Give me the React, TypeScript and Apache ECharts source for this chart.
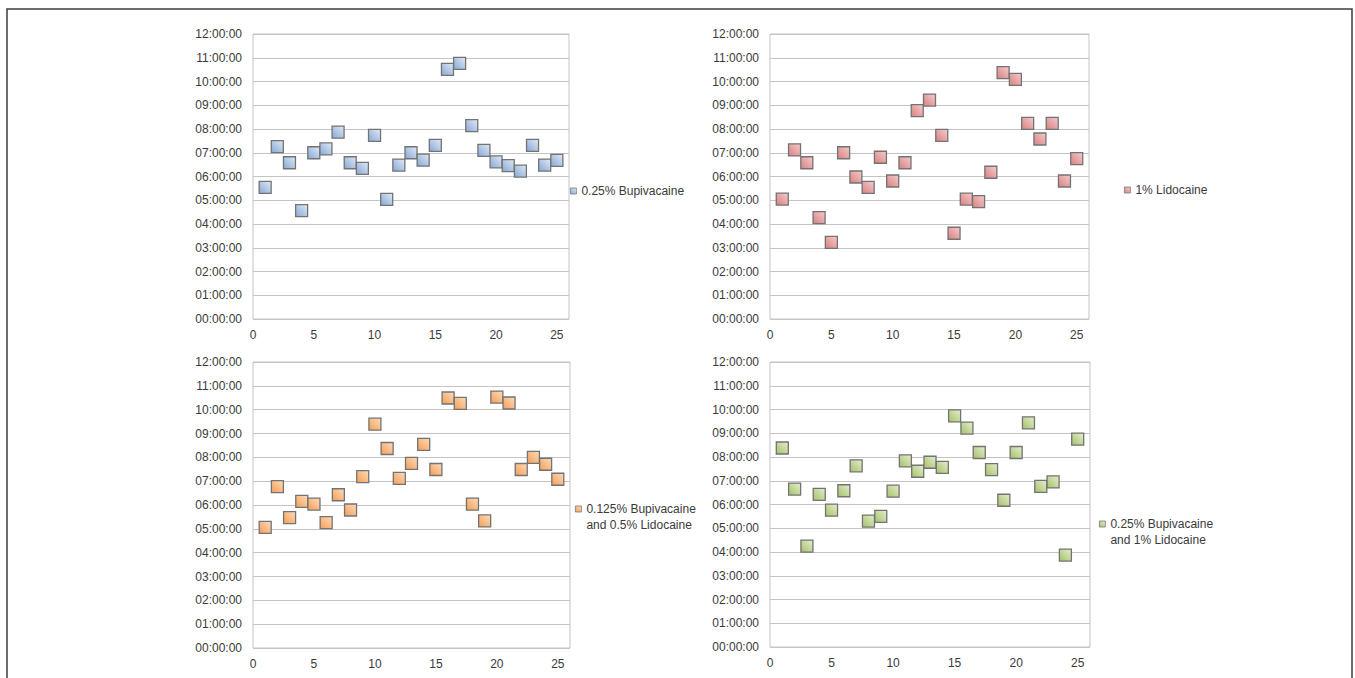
import React, { useEffect, useRef } from "react";
import * as echarts from "echarts";

// Patient numbers (x) shared by all panels
const patients = [1, 2, 3, 4, 5, 6, 7, 8, 9, 10, 11, 12, 13, 14, 15, 16, 17, 18, 19, 20, 21, 22, 23, 24, 25];

// Durations in hours
const bupi025 = [5.54, 7.26, 6.58, 4.56, 7.0, 7.16, 7.87, 6.58, 6.34, 7.73, 5.04, 6.48, 7.0, 6.69, 7.31, 10.51, 10.76, 8.14, 7.1, 6.62, 6.46, 6.23, 7.31, 6.48, 6.68];
const lido1 = [5.05, 7.12, 6.58, 4.27, 3.23, 7.0, 5.98, 5.54, 6.81, 5.81, 6.58, 8.77, 9.22, 7.73, 3.61, 5.05, 4.94, 6.18, 10.37, 10.09, 8.24, 7.58, 8.24, 5.81, 6.75];
const bupi0125Lido05 = [5.06, 6.77, 5.47, 6.15, 6.04, 5.26, 6.43, 5.79, 7.19, 9.39, 8.37, 7.12, 7.75, 8.54, 7.49, 10.49, 10.26, 6.04, 5.33, 10.53, 10.28, 7.49, 8.0, 7.71, 7.08];
const bupi025Lido1 = [8.38, 6.65, 4.25, 6.43, 5.76, 6.58, 7.63, 5.3, 5.5, 6.56, 7.84, 7.4, 7.78, 7.56, 9.73, 9.22, 8.19, 7.47, 6.18, 8.19, 9.44, 6.76, 6.95, 3.87, 8.75];

const seriesNames = [
  "0.25% Bupivacaine",
  "1% Lidocaine",
  "0.125% Bupivacaine and 0.5% Lidocaine",
  "0.25% Bupivacaine and 1% Lidocaine",
];
const seriesValues = [bupi025, lido1, bupi0125Lido05, bupi025Lido1];
const seriesColors = [
  ["#e1e9f5", "#86a8d6"],
  ["#f5cccc", "#d98080"],
  ["#fddcbc", "#f49e56"],
  ["#e5eecf", "#a5c168"],
];

const grids = [
  { left: 253, top: 34, width: 316, height: 285 },
  { left: 770, top: 34, width: 319, height: 285 },
  { left: 253, top: 362, width: 317, height: 286 },
  { left: 770, top: 362, width: 320, height: 285 },
];
const legendPos = [
  { left: 570, top: 184, multi: false },
  { left: 1124, top: 183, multi: false },
  { left: 575, top: 485, multi: true },
  { left: 1099, top: 500, multi: true },
];

const FONT = "Liberation Sans";
const TEXT = "#3a3a3a";

function pad2(v: number) {
  return (v < 10 ? "0" : "") + v;
}

export default function App() {
  const ref = useRef<HTMLDivElement>(null);
  useEffect(() => {
    document.body.style.margin = "0";
    const chart = echarts.init(ref.current!, undefined, { renderer: "svg" });
    const option: any = {
      animation: false,
      backgroundColor: "#ffffff",
      textStyle: { fontFamily: FONT },
      grid: grids.map((g) => ({ ...g, show: true, borderColor: "#c4c4c4", borderWidth: 1, containLabel: false })),
      xAxis: grids.map((_, i) => ({
        type: "value",
        gridIndex: i,
        min: 0,
        max: 26,
        interval: 5,
        axisLine: { show: false },
        axisTick: { show: false },
        splitLine: { show: false },
        axisLabel: {
          margin: 10,
          fontSize: 12,
          color: TEXT,
          fontFamily: FONT,
          showMaxLabel: false,
          formatter: (v: number) => (v % 5 === 0 ? String(v) : ""),
        },
      })),
      yAxis: grids.map((_, i) => ({
        type: "value",
        gridIndex: i,
        min: 0,
        max: 12,
        interval: 1,
        axisLine: { show: false },
        axisTick: { show: false },
        splitLine: { show: true, lineStyle: { color: "#c4c4c4", width: 1 } },
        axisLabel: {
          margin: 11,
          fontSize: 12,
          color: TEXT,
          fontFamily: FONT,
          formatter: (v: number) => pad2(v) + ":00:00",
        },
      })),
      legend: legendPos.map((p, i) => ({
        left: p.left,
        top: p.top,
        orient: "vertical",
        padding: 0,
        itemWidth: 6,
        itemHeight: 6,
        icon: "rect",
        selectedMode: false,
        data: [seriesNames[i]],
        formatter: p.multi
          ? (name: string) => " \n" + name.replace(" and ", "\nand ")
          : (name: string) => name,
        itemStyle: { borderColor: "#7a7a7a", borderWidth: 0.8 },
        textStyle: p.multi
          ? { fontSize: 12, color: TEXT, fontFamily: FONT, lineHeight: 16 }
          : { fontSize: 12, color: TEXT, fontFamily: FONT, lineHeight: 14 },
      })),
      series: seriesValues.map((vals, i) => ({
        name: seriesNames[i],
        type: "scatter",
        xAxisIndex: i,
        yAxisIndex: i,
        symbol: "rect",
        symbolSize: 12,
        data: patients.map((p, k) => [p, vals[k]]),
        itemStyle: {
          color: new echarts.graphic.LinearGradient(1, 0, 0, 1, [
            { offset: 0, color: seriesColors[i][0] },
            { offset: 1, color: seriesColors[i][1] },
          ]),
          borderColor: "#737373",
          borderWidth: 1.3,
          opacity: 1,
        },
        emphasis: { disabled: true },
      })),
      graphic: [
        {
          type: "rect",
          shape: { x: 7, y: 9, width: 1345, height: 720 },
          style: { fill: "none", stroke: "#3c3c3c", lineWidth: 1.5 },
          silent: true,
          z: 100,
        },
      ],
    };
    chart.setOption(option);
    return () => chart.dispose();
  }, []);
  return <div ref={ref} style={{ width: 1355, height: 678 }} />;
}
